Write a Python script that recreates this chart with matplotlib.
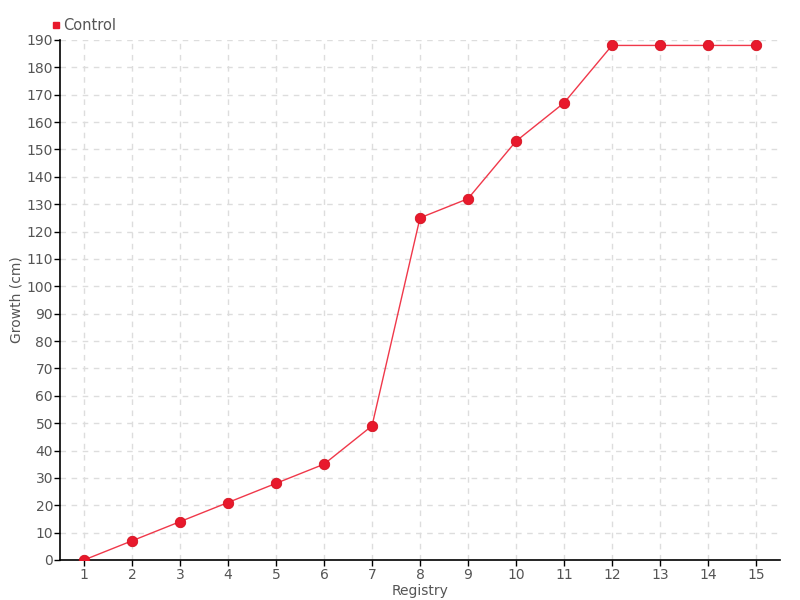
import matplotlib
matplotlib.use("Agg")
import matplotlib.pyplot as plt
from matplotlib.lines import Line2D

plt.rcParams['font.family'] = ['DejaVu Sans']

registry = list(range(1, 16))
growth = [0, 7, 14, 21, 28, 35, 49, 125, 132, 153, 167, 188, 188, 188, 188]
series_name = "Control"
x_label = "Registry"
y_label = "Growth (cm)"
y_ticks = list(range(0, 191, 10))

red = "#e8192c"
txt = "#555555"

fig = plt.figure(figsize=(8, 6), dpi=100)
ax = fig.add_axes([0.075, 0.0667, 0.9, 0.8667])

ax.plot(registry, growth, color="#f0384a", lw=1.0, zorder=3)
ax.plot(registry, growth, linestyle="none", marker="o", ms=7.5,
        color=red, markeredgecolor="#d4121f", markeredgewidth=0.6, zorder=4)

ax.set_xlim(0.5, 15.5)
ax.set_ylim(0, 190)
ax.set_xticks(registry)
ax.set_yticks(y_ticks)
ax.grid(True, color="#dddddd", linestyle=(0, (4, 4)), linewidth=1)
ax.set_axisbelow(True)
for s in ["top", "right"]:
    ax.spines[s].set_visible(False)
for s in ["left", "bottom"]:
    ax.spines[s].set_color("black")
    ax.spines[s].set_linewidth(1.2)
ax.tick_params(axis="both", colors="black", labelcolor=txt, labelsize=10,
               length=4, width=1, direction="out")
ax.tick_params(axis="x", pad=2)
ax.tick_params(axis="y", pad=1)

ax.set_xlabel(x_label, color=txt, fontsize=10)
ax.set_ylabel(y_label, color=txt, fontsize=10)
ax.yaxis.set_label_coords(-0.05, 0.5)
ax.xaxis.set_label_coords(0.5, -0.046)
ax.xaxis.label.set_verticalalignment("top")

handle = Line2D([], [], linestyle="none", marker="s", ms=5, color=red)
fig.legend([handle], [series_name], loc="upper left", bbox_to_anchor=(0.055, 0.98),
           frameon=False, fontsize=10.5, handletextpad=0.1, handlelength=0.8,
           labelcolor=txt, borderaxespad=0)

fig.savefig("out.png", dpi=100)
